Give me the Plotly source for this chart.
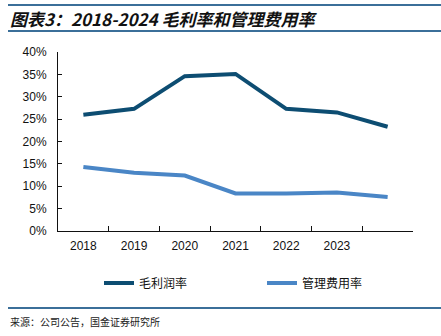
import plotly.graph_objects as go

categories = ["2018", "2019", "2020", "2021", "2022", "2023", "2024"]
tick_labels = ["2018", "2019", "2020", "2021", "2022", "2023", ""]
gross_margin = [26.0, 27.3, 34.6, 35.1, 27.3, 26.5, 23.3]
admin_ratio = [14.3, 13.0, 12.4, 8.4, 8.4, 8.6, 7.6]
series_names = ["毛利润率", "管理费用率"]

W, H = 441, 336
L, R, T, B = 58, 413, 52, 231

def px(x):
    return (x - L) / (R - L)

def py(y):
    return (B - y) / (B - T)

fig = go.Figure()
fig.add_trace(go.Scatter(x=categories, y=gross_margin, mode="lines", name=series_names[0],
                         line=dict(color="#0d4d72", width=4)))
fig.add_trace(go.Scatter(x=categories, y=admin_ratio, mode="lines", name=series_names[1],
                         line=dict(color="#4a86c6", width=4)))

fig.update_layout(
    width=W, height=H,
    margin=dict(l=L, r=W - R, t=T, b=H - B),
    plot_bgcolor="white", paper_bgcolor="white",
    font=dict(family="Liberation Sans, Arial, sans-serif", size=12, color="#111"),
    showlegend=True,
    legend=dict(orientation="h", x=px(99), xanchor="left", y=py(283), yanchor="middle",
                font=dict(family="Noto Sans CJK SC", size=12, color="#111"),
                itemwidth=30, tracegroupgap=0, entrywidthmode="pixels", entrywidth=118),
    xaxis=dict(type="category", tickmode="array", tickvals=categories, ticktext=tick_labels,
               range=[-0.5, 6.5], showline=True, linecolor="#111", linewidth=1,
               ticks="inside", ticklen=5, tickcolor="#111", tickson="boundaries",
               ticklabelstandoff=4,
               showgrid=False, zeroline=False, fixedrange=True),
    yaxis=dict(range=[0, 40], dtick=5, ticksuffix="%", showline=True, linecolor="#111",
               linewidth=1, ticks="inside", ticklen=4, tickcolor="#111",
               ticklabelstandoff=8,
               showgrid=False, zeroline=False, fixedrange=True),
)

shapes = []
for y in (5, 31, 308):
    shapes.append(dict(type="line", xref="paper", yref="paper",
                       x0=px(8), x1=px(441), y0=py(y), y1=py(y),
                       line=dict(color="#3b6f99", width=2)))
fig.update_layout(shapes=shapes)

fig.add_annotation(xref="paper", yref="paper", x=px(8), y=py(18), xanchor="left", yanchor="middle",
                   text="<b><i>图表3：2018-2024 毛利率和管理费用率</i></b>", showarrow=False,
                   font=dict(family="Noto Sans CJK SC", size=17, color="#111"))
fig.add_annotation(xref="paper", yref="paper", x=px(8), y=py(321), xanchor="left", yanchor="middle",
                   text="来源：公司公告，国金证券研究所", showarrow=False,
                   font=dict(family="Noto Sans CJK SC", size=10, color="#222"))

fig.write_html("out.html")
